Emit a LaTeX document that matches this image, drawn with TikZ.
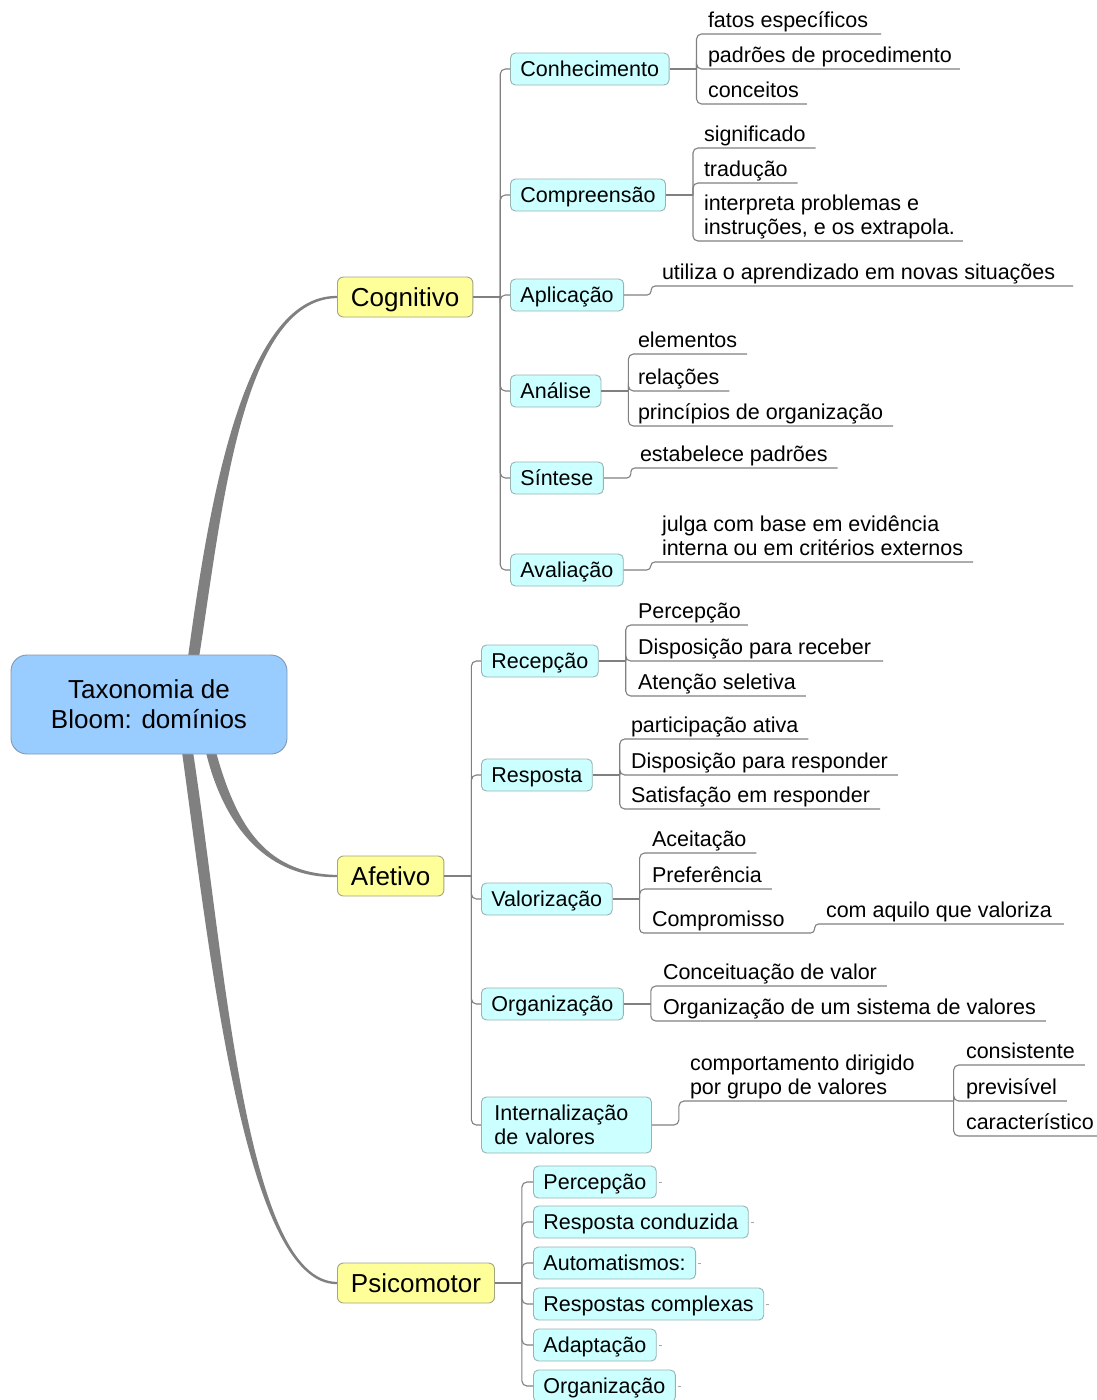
\documentclass[tikz,border=0pt]{standalone}
\usepackage{fontspec}
\setmainfont{Liberation Sans}
\usetikzlibrary{calc,backgrounds}

\definecolor{linegray}{HTML}{808080}
\definecolor{rootfill}{HTML}{99CCFF}
\definecolor{rootedge}{HTML}{8099B3}
\definecolor{yfill}{HTML}{FFFF99}
\definecolor{yedge}{HTML}{A3A385}
\definecolor{cfill}{HTML}{CCFFFF}
\definecolor{cedge}{HTML}{99B3B3}

\newcommand\fsmall{\fontsize{21.5}{24}\selectfont}
\newcommand\fbig{\fontsize{26}{30}\selectfont}

% tapered trunk: start, first control, second control, end, half width at start, end offset
\newcommand\trunk[6]{%
  \fill[linegray] ($(#1)+(-#5,0)$) .. controls ($(#2)+1.3*(-#5,0)$) and ($(#3)+2.2*(0,#6)$) .. ($(#4)+(0,#6)$)
    -- ($(#4)-(0,#6)$) .. controls ($(#3)-2.2*(0,#6)$) and ($(#2)+1.3*(#5,0)$) .. ($(#1)+(#5,0)$) -- cycle;}

% underlined leaf joined to a junction
\newcommand\leafto[3][10pt]{\draw[elbow] (#2) |- ([xshift=#1]#3.south east);}

\begin{document}
\begin{tikzpicture}[x=1pt,y=-1pt,
  conn/.style={draw=linegray, line width=1.1pt},
  elbow/.style={conn, rounded corners=5pt},
  sbend/.style={conn, rounded corners=4pt},
  stub/.style={draw=linegray!70, line width=0.8pt},
  rootbox/.style={draw=rootedge, fill=rootfill, rounded corners=16pt, line width=0.9pt,
    minimum width=276pt, minimum height=99pt, align=center, font=\fbig},
  domainbox/.style={draw=yedge, fill=yfill, rounded corners=6pt, line width=0.9pt,
    minimum height=40pt, inner xsep=13.5pt, inner ysep=2pt, font=\fbig,
    text height=24pt, text depth=5.4pt, anchor=west},
  topicbase/.style={draw=cedge, fill=cfill, rounded corners=5pt, line width=0.9pt,
    minimum height=32pt, inner xsep=10pt, inner ysep=2pt, font=\fsmall, anchor=west},
  topicbox/.style={topicbase, text height=19.9pt, text depth=4.5pt},
  leafbox/.style={anchor=south west, inner sep=0pt, outer sep=0pt, font=\fsmall, align=left,
    execute at end node={\rule[-6.5pt]{0pt}{6.5pt}}},
]
\useasboundingbox (0,0) rectangle (1097,1400);

% ---------- root and domains ----------
\node[rootbox] (root) at (149,704.5) {Taxonomia de\\Bloom: domínios};
\node[domainbox] (cog) at (337,297) {Cognitivo};
\node[domainbox] (afe) at (337,876) {Afetivo};
\node[domainbox] (psi) at (337,1283) {Psicomotor};

\coordinate (tcog) at ([xshift=44pt,yshift=-6pt]root.north);
\coordinate (tafe) at ([xshift=61pt,yshift=6pt]root.south);
\coordinate (tpsi) at ([xshift=38pt,yshift=6pt]root.south);

\begin{pgfonlayer}{background}
  \fill[white] (0,0) rectangle (1097,1400);
  \trunk{tcog}{214,520}{240,297}{cog.west}{5.5}{-1.1}
  \trunk{tafe}{228,820}{262,876}{afe.west}{5}{1.1}
  \trunk{tpsi}{218,960}{245,1283}{psi.west}{5.5}{1.1}
\end{pgfonlayer}

% ---------- Cognitivo ----------
\node[topicbox] (con) at (510,69) {Conhecimento};
\node[topicbox] (com) at (510,195) {Compreensão};
\node[topicbox] (apl) at (510,295) {Aplicação};
\node[topicbox] (ana) at (510,391) {Análise};
\node[topicbox] (sin) at (510,478) {Síntese};
\node[topicbox] (ava) at (510,570) {Avaliação};

\coordinate (cogj) at ([xshift=27pt]cog.east);
\draw[conn] (cog.east) -- (cogj);
\foreach \n in {con,com,apl,ana,sin,ava} \draw[elbow] (cogj) |- (\n.west);

% Conhecimento
\node[leafbox] (c1) at (708,34) {fatos específicos};
\node[leafbox] (c2) at (708,69) {padrões de procedimento};
\node[leafbox] (c3) at (708,104) {conceitos};
\coordinate (conj) at ([xshift=27pt]con.east);
\draw[conn] (con.east) -- (conj);
\leafto[13pt]{conj}{c1}
\leafto[8pt]{conj}{c2}
\leafto[8pt]{conj}{c3}

% Compreensão
\node[leafbox] (m1) at (704,148) {significado};
\node[leafbox] (m2) at (704,183) {tradução};
\node[leafbox] (m3) at (704,241) {interpreta problemas e\\instruções, e os extrapola.};
\coordinate (comj) at ([xshift=27pt]com.east);
\draw[conn] (com.east) -- (comj);
\leafto{comj}{m1}
\leafto{comj}{m2}
\leafto[8pt]{comj}{m3}

% Aplicação
\node[leafbox] (a1) at (662,286) {utiliza o aprendizado em novas situações};
\coordinate (aplj) at ([xshift=27pt]apl.east);
\draw[sbend] (apl.east) -- (aplj) |- ([xshift=18pt]a1.south east);

% Análise
\node[leafbox] (n1) at (638,354) {elementos};
\node[leafbox] (n2) at (638,391) {relações};
\node[leafbox] (n3) at (638,426) {princípios de organização};
\coordinate (anaj) at ([xshift=27pt]ana.east);
\draw[conn] (ana.east) -- (anaj);
\leafto{anaj}{n1}
\leafto{anaj}{n2}
\leafto{anaj}{n3}

% Síntese
\node[leafbox] (s1) at (640,468) {estabelece padrões};
\coordinate (sinj) at ([xshift=27pt]sin.east);
\draw[sbend] (sin.east) -- (sinj) |- ([xshift=10pt]s1.south east);

% Avaliação
\node[leafbox] (v1) at (662,562) {julga com base em evidência\\interna ou em critérios externos};
\coordinate (avaj) at ([xshift=27pt]ava.east);
\draw[sbend] (ava.east) -- (avaj) |- ([xshift=10pt]v1.south east);

% ---------- Afetivo ----------
\node[topicbox] (rec) at (481,661) {Recepção};
\node[topicbox] (res) at (481,775) {Resposta};
\node[topicbox] (val) at (481,899) {Valorização};
\node[topicbox] (org) at (481,1004) {Organização};
\node[topicbase, align=left, text width=144pt, inner xsep=13pt, minimum height=56pt]
  (int) at (481,1125) {Internalização\\de valores};

\coordinate (afej) at ([xshift=27pt]afe.east);
\draw[conn] (afe.east) -- (afej);
\foreach \n in {rec,res,val,org,int} \draw[elbow] (afej) |- (\n.west);

% Recepção
\node[leafbox] (r1) at (638,625) {Percepção};
\node[leafbox] (r2) at (638,661) {Disposição para receber};
\node[leafbox] (r3) at (638,696) {Atenção seletiva};
\coordinate (recj) at ([xshift=27pt]rec.east);
\draw[conn] (rec.east) -- (recj);
\leafto[7pt]{recj}{r1}
\leafto[12pt]{recj}{r2}
\leafto{recj}{r3}

% Resposta
\node[leafbox] (p1) at (631,739) {participação ativa};
\node[leafbox] (p2) at (631,775) {Disposição para responder};
\node[leafbox] (p3) at (631,809) {Satisfação em responder};
\coordinate (resj) at ([xshift=27pt]res.east);
\draw[conn] (res.east) -- (resj);
\leafto{resj}{p1}
\leafto{resj}{p2}
\leafto{resj}{p3}

% Valorização
\node[leafbox] (z1) at (652,853) {Aceitação};
\node[leafbox] (z2) at (652,889) {Preferência};
\node[leafbox] (z3) at (652,933) {Compromisso};
\node[leafbox] (z4) at (826,924) {com aquilo que valoriza};
\coordinate (valj) at ([xshift=27pt]val.east);
\coordinate (cmpj) at ([xshift=30pt]z3.south east);
\draw[conn] (val.east) -- (valj);
\leafto{valj}{z1}
\leafto{valj}{z2}
\draw[sbend] (valj) |- (cmpj) |- ([xshift=12pt]z4.south east);

% Organização
\node[leafbox] (o1) at (663,986) {Conceituação de valor};
\node[leafbox] (o2) at (663,1021) {Organização de um sistema de valores};
\coordinate (orgj) at ([xshift=27pt]org.east);
\draw[conn] (org.east) -- (orgj);
\leafto{orgj}{o1}
\leafto{orgj}{o2}

% Internalização de valores
\node[leafbox] (i1) at (690,1101) {comportamento dirigido\\por grupo de valores};
\node[leafbox] (i2) at (966,1065) {consistente};
\node[leafbox] (i3) at (966,1101) {previsível};
\node[leafbox] (i4) at (966,1136) {característico};
\coordinate (intj) at ([xshift=27pt]int.east);
\coordinate (behj) at ([xshift=39pt]i1.south east);
\draw[elbow] (int.east) -- (intj) |- (behj);
\leafto{behj}{i2}
\leafto{behj}{i3}
\leafto[4pt]{behj}{i4}

% ---------- Psicomotor ----------
\node[topicbox] (q1) at (533,1182) {Percepção};
\node[topicbox] (q2) at (533,1222) {Resposta conduzida};
\node[topicbox] (q3) at (533,1263) {Automatismos:};
\node[topicbox] (q4) at (533,1304) {Respostas complexas};
\node[topicbox] (q5) at (533,1345) {Adaptação};
\node[topicbox] (q6) at (533,1386) {Organização};

\coordinate (psij) at ([xshift=27pt]psi.east);
\draw[conn] (psi.east) -- (psij);
\foreach \n in {q1,q2,q3,q4,q5,q6} {
  \draw[elbow] (psij) |- (\n.west);
  \draw[stub] ([xshift=2pt]\n.east) -- ++(3,0);
}
\end{tikzpicture}
\end{document}
